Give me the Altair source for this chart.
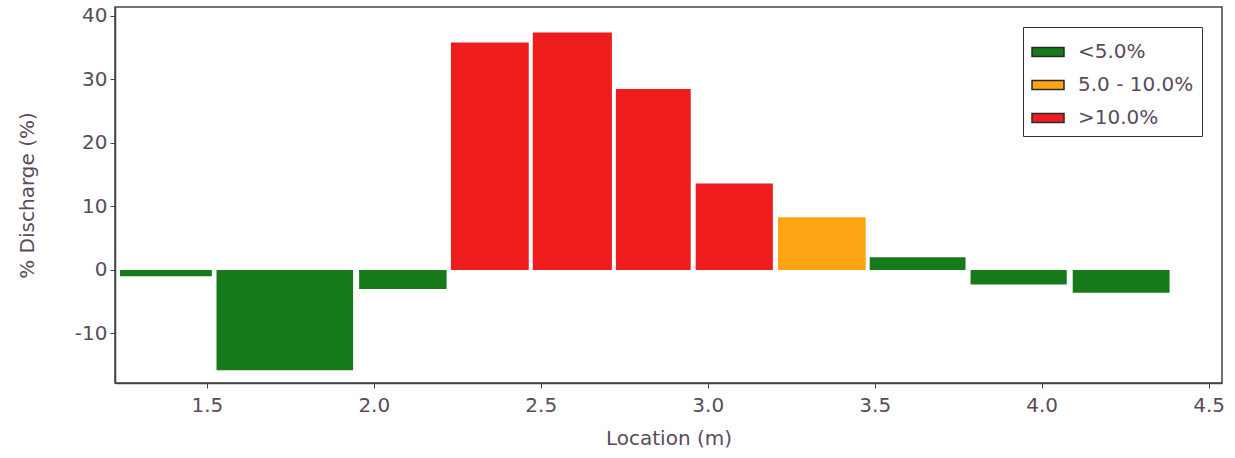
import altair as alt
import pandas as pd

# Bar extents along the location axis (m)
loc_start = [1.240, 1.529, 1.956, 2.231, 2.476, 2.725, 2.964, 3.210, 3.485, 3.787, 4.093]
loc_end = [1.515, 1.938, 2.218, 2.464, 2.713, 2.949, 3.195, 3.473, 3.772, 4.075, 4.383]
discharge = [-1.0, -15.8, -3.0, 35.8, 37.4, 28.5, 13.6, 8.3, 2.0, -2.3, -3.6]
category = ["<5.0%", "<5.0%", "<5.0%", ">10.0%", ">10.0%", ">10.0%", ">10.0%",
            "5.0 - 10.0%", "<5.0%", "<5.0%", "<5.0%"]

cat_domain = ["<5.0%", "5.0 - 10.0%", ">10.0%"]
cat_colors = ["#177A1A", "#FFA514", "#EE1C1C"]
x_ticks = [1.5, 2.0, 2.5, 3.0, 3.5, 4.0, 4.5]
y_ticks = [-10, 0, 10, 20, 30, 40]

df = pd.DataFrame({
    "start": loc_start,
    "end": loc_end,
    "value": discharge,
    "zero": [0] * len(discharge),
    "cat": category,
})

TEXT = "#5b4a5e"
LINE = "#444444"
FONT = "DejaVu Sans"

chart = (
    alt.Chart(df)
    .mark_bar()
    .encode(
        x=alt.X(
            "start:Q",
            scale=alt.Scale(domain=[1.225, 4.54], nice=False, zero=False),
            axis=alt.Axis(
                values=x_ticks, format=".1f", title="Location (m)",
                titleY=55, titleBaseline="middle", labelPadding=7,
            ),
        ),
        x2="end:Q",
        y=alt.Y(
            "value:Q",
            scale=alt.Scale(domain=[-17.8, 41.4], nice=False),
            axis=alt.Axis(
                values=y_ticks, title="% Discharge (%)",
                labelExpr="datum.value < 0 ? '-' + abs(datum.value) : '' + datum.value",
                titleX=-88, titleY=188, titleBaseline="middle", titleAngle=-90,
                labelPadding=3,
            ),
        ),
        y2="zero:Q",
        color=alt.Color(
            "cat:N",
            scale=alt.Scale(domain=cat_domain, range=cat_colors),
            legend=alt.Legend(
                title=None,
                orient="none",
                legendX=908,
                legendY=20,
                symbolType="M-1,-0.28L1,-0.28L1,0.28L-1,0.28Z",
                symbolSize=1024,
                symbolStrokeColor="#2a2a2a",
                symbolStrokeWidth=1.5,
                symbolOpacity=1,
                labelFont=FONT,
                labelFontSize=20,
                labelColor=TEXT,
                labelOffset=13,
                rowPadding=6,
                padding=8,
                strokeColor="#333333",
                fillColor="white",
            ),
        ),
    )
    .properties(width=1107, height=376, padding={"left": 115, "top": 7, "right": 13, "bottom": 75})
    .configure(autosize=alt.AutoSizeParams(type="none"))
    .configure_view(stroke=LINE, strokeWidth=1.5)
    .configure_axis(
        grid=False,
        domainColor=LINE,
        domainWidth=1.5,
        tickColor=LINE,
        tickSize=5,
        labelFont=FONT,
        labelFontSize=20,
        labelColor=TEXT,
        titleFont=FONT,
        titleFontSize=20,
        titleFontWeight="normal",
        titleColor=TEXT,
    )
)

chart.save("out.html", embed_options={"renderer": "svg", "actions": False})
